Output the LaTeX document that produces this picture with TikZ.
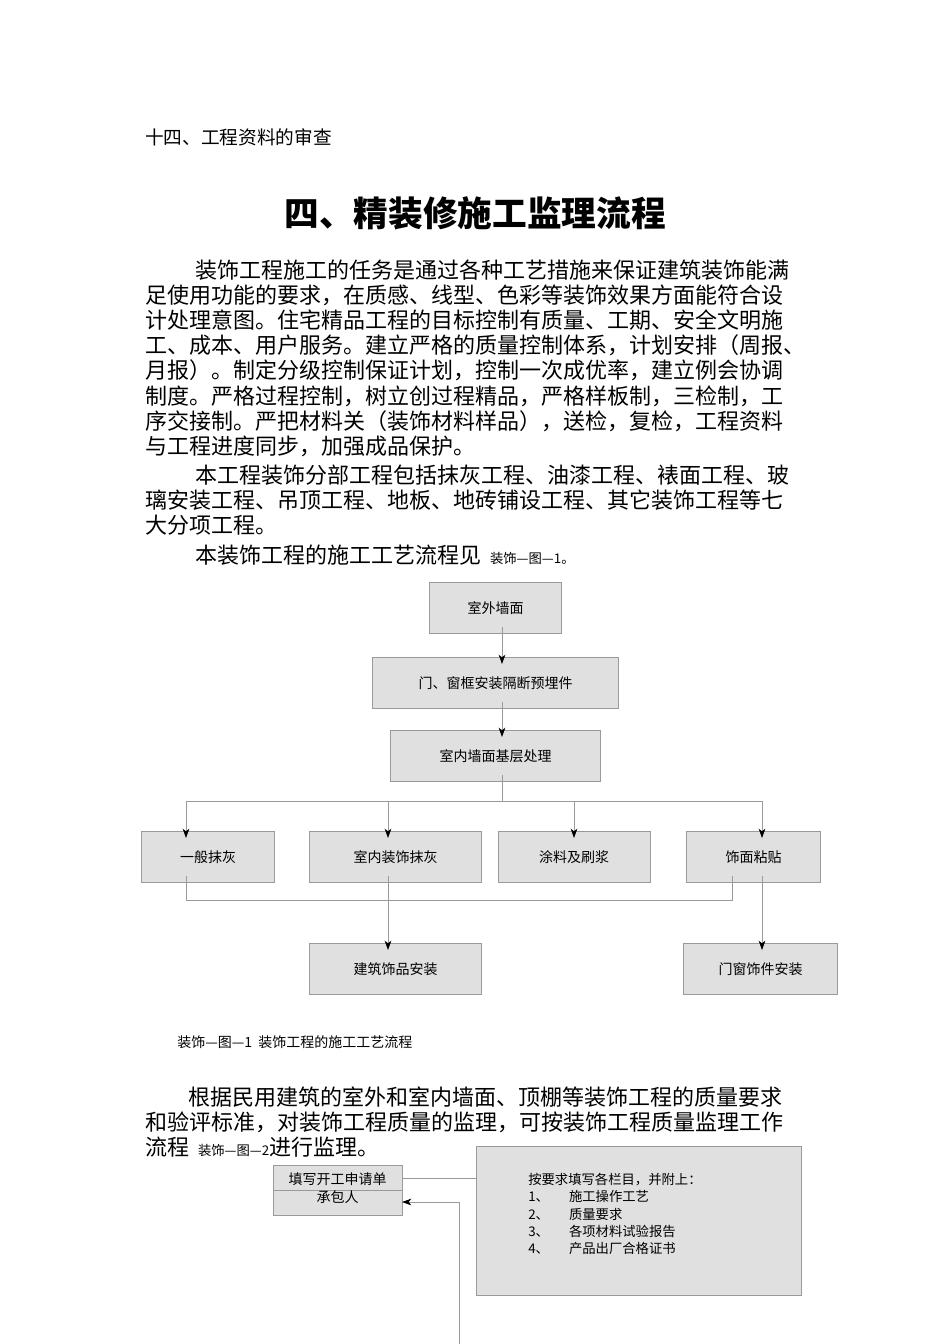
\documentclass[tikz,border=0pt]{standalone}
\usepackage{fontspec}
\setmainfont{Noto Sans CJK SC}
\usetikzlibrary{arrows.meta}
\definecolor{boxfill}{HTML}{E0E0E0}
\definecolor{boxline}{HTML}{9A9A9A}
\begin{document}
\begin{tikzpicture}[x=0.75pt,y=-0.75pt,
  body/.style={anchor=west,inner sep=0,font=\fontsize{16.5}{18}\selectfont},
  fbox/.style={draw=boxline,fill=boxfill,line width=0.6pt,inner sep=0,font=\fontsize{10.5}{12}\selectfont},
  conn/.style={draw=boxline,line width=0.6pt},
  arr/.style={conn,-{Stealth[inset=2pt,length=7pt,width=5pt,black]}}]
\useasboundingbox (0,0) rectangle (950,1344);
\fill[white] (0,0) rectangle (950,1344);
\node[anchor=west,inner sep=0,font=\fontsize{14}{16}\selectfont] (hdr) at (145,137) {十四、工程资料的审查};
\node[inner sep=0,font=\fontsize{26}{30}\selectfont\bfseries] (title) at (475,213) {四、精装修施工监理流程};
\node[body] (l1) at (195,270) {装饰工程施工的任务是通过各种工艺措施来保证建筑装饰能满};
\node[body] (l2) at (145,295) {足使用功能的要求，在质感、线型、色彩等装饰效果方面能符合设};
\node[body] (l3) at (145,320) {计处理意图。住宅精品工程的目标控制有质量、工期、安全文明施};
\node[body] (l4) at (145,345) {工、成本、用户服务。建立严格的质量控制体系，计划安排（周报、};
\node[body] (l5) at (145,370) {月报）。制定分级控制保证计划，控制一次成优率，建立例会协调};
\node[body] (l6) at (145,396) {制度。严格过程控制，树立创过程精品，严格样板制，三检制，工};
\node[body] (l7) at (145,421) {序交接制。严把材料关（装饰材料样品），送检，复检，工程资料};
\node[body] (l8) at (145,446) {与工程进度同步，加强成品保护。};
\node[body] (m1) at (195,475) {本工程装饰分部工程包括抹灰工程、油漆工程、裱面工程、玻};
\node[body] (m2) at (145,500) {璃安装工程、吊顶工程、地板、地砖铺设工程、其它装饰工程等七};
\node[body] (m3) at (145,525) {大分项工程。};
\node[body] (n1) at (195,555) {本装饰工程的施工工艺流程见\hspace{0.4em}{\fontsize{10}{12}\selectfont 装饰—图—1。}};
% flowchart 1
\node[fbox,minimum width=99,minimum height=38] (a) at (495.5,608) {室外墙面};
\node[fbox,minimum width=185,minimum height=38] (b) at (495.5,683) {门、窗框安装隔断预埋件};
\node[fbox,minimum width=157,minimum height=38] (c) at (495.5,756) {室内墙面基层处理};
\node[fbox,minimum width=100,minimum height=38] (d1) at (208,857) {一般抹灰};
\node[fbox,minimum width=129,minimum height=38] (d2) at (395.5,857) {室内装饰抹灰};
\node[fbox,minimum width=114,minimum height=38] (d3) at (574,857) {涂料及刷浆};
\node[fbox,minimum width=101,minimum height=38] (d4) at (753.5,857) {饰面粘贴};
\node[fbox,minimum width=129,minimum height=38] (e1) at (395.5,969) {建筑饰品安装};
\node[fbox,minimum width=115,minimum height=38] (e2) at (760.5,969) {门窗饰件安装};
\coordinate (s) at (502,801);
\draw[arr] (502,627) -- (502,664);
\draw[arr] (502,702) -- (502,737);
\draw[conn] (502,775) -- (s);
\draw[conn] (186,801) -- (762,801);
\draw[arr] (186,801) -- (186,838);
\draw[arr] (388,801) -- (388,838);
\draw[arr] (574,801) -- (574,838);
\draw[arr] (762,801) -- (762,838);
\draw[conn] (186,876) -- (186,900) -- (732,900) -- (732,876);
\draw[arr] (388,876) -- (388,950);
\draw[arr] (762,876) -- (762,950);
\node[anchor=west,inner sep=0,font=\fontsize{10.5}{12}\selectfont] (cap) at (177,1042) {装饰—图—1\ \ 装饰工程的施工工艺流程};
\node[body] (p1) at (188,1097) {根据民用建筑的室外和室内墙面、顶棚等装饰工程的质量要求};
\node[body] (p2) at (145,1122) {和验评标准，对装饰工程质量的监理，可按装饰工程质量监理工作};
\node[body] (p3) at (145,1147) {流程\hspace{0.4em}{\fontsize{10}{12}\selectfont 装饰—图—2}进行监理。};
% flowchart 2
\draw[draw=boxline,fill=boxfill,line width=0.6pt] (273,1165) rectangle (402,1215);
\draw[conn] (273,1190) -- (402,1190);
\node[inner sep=0,font=\fontsize{10.5}{12}\selectfont] (f1) at (337.5,1179) {填写开工申请单};
\node[inner sep=0,font=\fontsize{10.5}{12}\selectfont] (f2) at (337.5,1197) {承包人};
\coordinate (fR) at (402,1178);
\coordinate (fA) at (402,1202);
\node[draw=boxline,fill=boxfill,line width=0.6pt,minimum width=244,minimum height=112,inner sep=0] (g) at (639,1221) {};
\node[anchor=north west,inner sep=0,align=left,font=\fontsize{10}{13}\selectfont] (gt) at (528,1173) {按要求填写各栏目，并附上：\\1、\hspace{1.5em}施工操作工艺\\2、\hspace{1.5em}质量要求\\3、\hspace{1.5em}各项材料试验报告\\4、\hspace{1.5em}产品出厂合格证书};
\draw[conn] (fR) -- (g.west |- fR);
\coordinate (v) at (459,1344);
\draw[arr] (v) -- (459,1202) -- (fA);
\end{tikzpicture}
\end{document}
